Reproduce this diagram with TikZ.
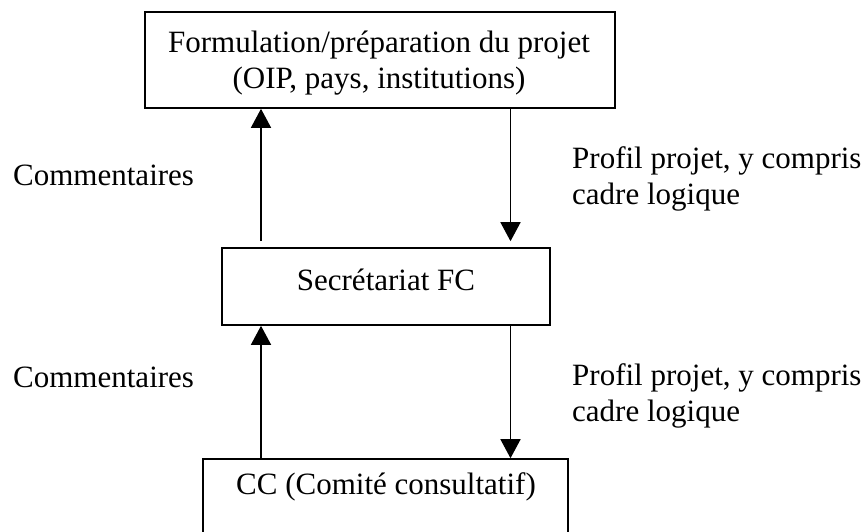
\documentclass[tikz,border=0pt]{standalone}
\usepackage{fontspec}
\setmainfont{Liberation Serif}
\usetikzlibrary{arrows.meta}
\begin{document}
\begin{tikzpicture}[x=1pt,y=-1pt,
  box/.style={draw, line width=1.6pt, inner sep=0pt},
  txt/.style={inner sep=0pt, font=\fontsize{31}{36}\selectfont},
  lbl/.style={inner sep=0pt, align=left, font=\fontsize{31}{36}\selectfont},
  arr/.style={line width=1.5pt, -{Triangle[length=19pt,width=20pt]}}]
\useasboundingbox (0,0) rectangle (866,531);
\fill[white] (0,0) rectangle (866,531);
% boxes
\node[box, minimum width=470pt, minimum height=96pt] (form) at (380,60) {};
\node[txt, anchor=base] (formA) at (379,52) {Formulation/préparation du projet};
\node[txt, anchor=base] (formB) at (379,88) {(OIP, pays, institutions)};
\node[box, minimum width=328pt, minimum height=77pt] (sec) at (386,286.5) {};
\node[txt, anchor=base] (secT) at (386,290) {Secrétariat FC};
\node[box, minimum width=365pt, minimum height=82pt] (cc) at (385.5,500) {};
\node[txt, anchor=base] (ccT) at (386,494) {CC (Comité consultatif)};
% x positions of the connectors
\coordinate (xl) at (261,0);
\coordinate (xr) at (510.5,0);
% connectors
\draw[arr, shorten <=6pt] (sec.north -| xl) -- (form.south -| xl);
\draw[arr, shorten >=6pt] (form.south -| xr) -- (sec.north -| xr);
\draw[arr] (cc.north -| xl) -- (sec.south -| xl);
\draw[arr] (sec.south -| xr) -- (cc.north -| xr);
% labels (base anchor = baseline of last line)
\node[lbl, anchor=base west] (c1) at (13,185) {Commentaires};
\node[lbl, anchor=base west] (p1) at (572,204) {Profil projet, y compris\\cadre logique};
\node[lbl, anchor=base west] (c2) at (13,387) {Commentaires};
\node[lbl, anchor=base west] (p2) at (572,421) {Profil projet, y compris\\cadre logique};
\end{tikzpicture}
\end{document}
